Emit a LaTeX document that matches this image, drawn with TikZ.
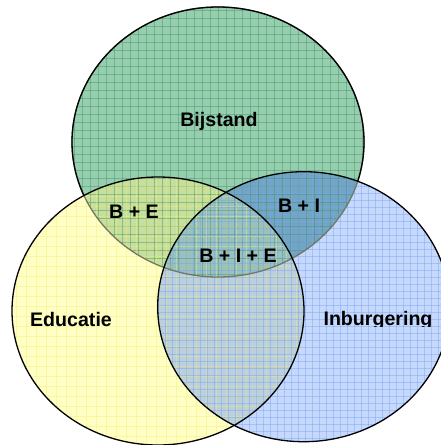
\documentclass[tikz,border=0pt]{standalone}
\usepackage{fontspec}
\setmainfont{Liberation Sans}
\definecolor{cG}{RGB}{152,206,176}
\definecolor{cY}{RGB}{255,255,196}
\definecolor{cB}{RGB}{198,216,252}
\definecolor{cBE}{RGB}{200,222,156}
\definecolor{cBI}{RGB}{116,164,196}
\definecolor{cEI}{RGB}{188,207,220}
\definecolor{cBIE}{RGB}{154,192,194}
\definecolor{gG}{RGB}{60,150,100}
\definecolor{gY}{RGB}{240,235,120}
\definecolor{gB}{RGB}{120,165,240}
\definecolor{dimedge}{RGB}{115,120,100}
\begin{document}
\begin{tikzpicture}[x=1pt,y=-1pt,
  lab/.style={font=\fontsize{19.6}{22}\selectfont\bfseries, inner sep=0pt, anchor=base},
  outl/.style={line width=1.3pt, draw=black},
  gridG/.style={draw=gG, line width=0.6pt, opacity=0.45},
  gridY/.style={draw=gY, line width=0.6pt, opacity=0.4},
  gridB/.style={draw=gB, line width=0.6pt, opacity=0.45}]
\def\Gp{(218,142) ellipse [x radius=146, y radius=135]}
\def\Yp{(158,311) ellipse [x radius=146, y radius=134]}
\def\Bp{(303.7,306.7) ellipse [x radius=146, y radius=135]}
\useasboundingbox (0,0) rectangle (441,445);
\fill[white] (0,0) rectangle (441,445);
% base fills
\fill[cG] \Gp;
\fill[cY] \Yp;
\fill[cB] \Bp;
\begin{scope}\clip \Gp; \fill[cBE] \Yp; \end{scope}
\begin{scope}\clip \Gp; \fill[cBI] \Bp; \end{scope}
\begin{scope}\clip \Yp; \fill[cEI] \Bp; \end{scope}
\begin{scope}\clip \Gp; \clip \Yp; \fill[cBIE] \Bp; \end{scope}
% grids
\begin{scope}\clip \Gp;
  \foreach \i in {2,10,...,442} {\draw[gridG] (\i,0) -- (\i,445);}
  \foreach \j in {2,10,...,442} {\draw[gridG] (0,\j) -- (441,\j);}
\end{scope}
\begin{scope}\clip \Yp;
  \foreach \i in {6,16,...,446} {\draw[gridY] (\i,0) -- (\i,445);}
  \foreach \j in {6,16,...,446} {\draw[gridY] (0,\j) -- (441,\j);}
\end{scope}
\begin{scope}\clip \Bp;
  \foreach \i in {4,11,...,445} {\draw[gridB] (\i,0) -- (\i,445);}
  \foreach \j in {4,11,...,445} {\draw[gridB] (0,\j) -- (441,\j);}
\end{scope}
% outlines
\draw[line width=1.3pt, draw=dimedge] \Gp;
\begin{scope}[even odd rule]
  \clip (-20,-20) rectangle (470,470) \Yp;
  \clip (-20,-20) rectangle (470,470) \Bp;
  \draw[outl] \Gp;
\end{scope}
\draw[outl] \Yp;
\draw[outl] \Bp;
% labels
\node[lab] (bij) at (219,126.7) {Bijstand};
\node[lab] (be) at (134,218) {B + E};
\node[lab] (bi) at (299,212.7) {B + I};
\node[lab] (bie) at (238,262.5) {B + I + E};
\node[lab] (edu) at (71,326) {Educatie};
\begin{scope}
  \clip (290,290) rectangle (441,326.5);
  \node[lab] (inb) at (378,325.5) {Inburgering};
\end{scope}
\end{tikzpicture}
\end{document}
